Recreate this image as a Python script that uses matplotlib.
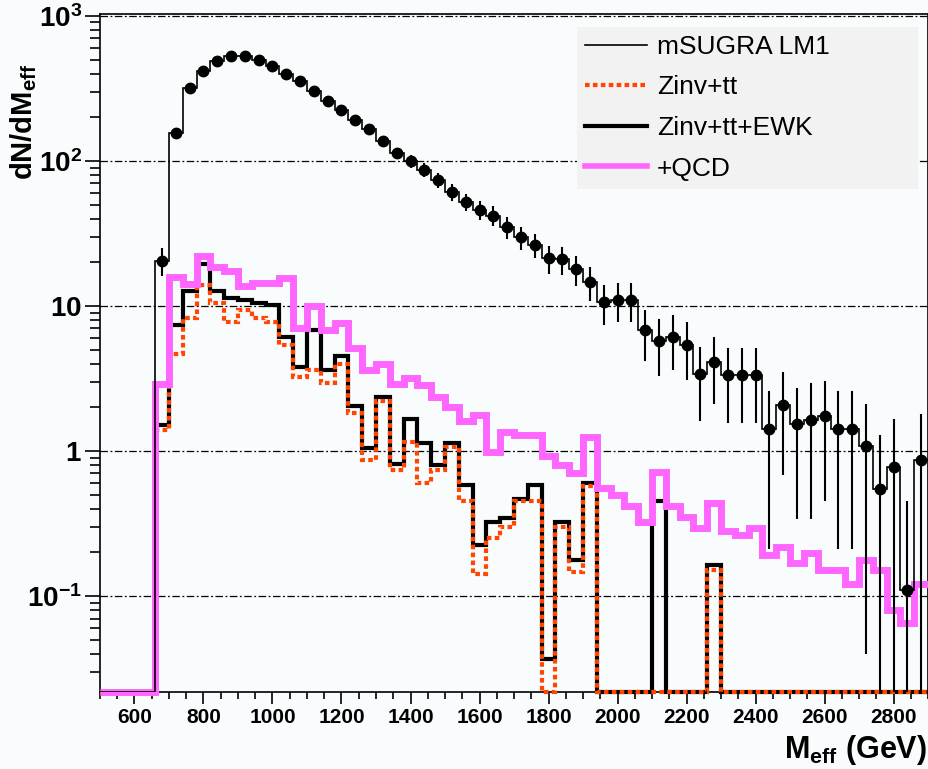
import matplotlib
matplotlib.use('Agg')

import matplotlib.pyplot as plt
from matplotlib.lines import Line2D
from matplotlib.ticker import FixedLocator, FixedFormatter, MultipleLocator, NullFormatter
import numpy as np

plt.rcParams['font.family'] = ['Liberation Sans', 'DejaVu Sans']
plt.rcParams['mathtext.fontset'] = 'custom'
plt.rcParams['mathtext.rm'] = 'Liberation Sans'
plt.rcParams['mathtext.it'] = 'Liberation Sans:italic'
plt.rcParams['mathtext.bf'] = 'Liberation Sans:bold'

# binning: 60 bins of 40 GeV
bin_lo, bin_hi, bin_width = 500, 2900, 40

# signal, events per bin and stat. error
lm1 = [0, 0, 0, 0, 20.5, 156, 320, 420, 487, 530,
       528, 500, 452, 396, 358, 301, 257, 225, 190, 165,
       137, 113, 100, 86.7, 74, 61, 52, 46, 42, 35,
       29.8, 26.4, 21.3, 21, 17.9, 14.7, 10.7, 11, 11, 6.8,
       5.7, 6.1, 5.4, 3.4, 4.1, 3.35, 3.35, 3.35, 1.41, 2.08,
       1.54, 1.64, 1.75, 1.41, 1.41, 1.08, 0.544, 0.77, 0.11, 0.87]
lm1_err = [0, 0, 0, 0, 4.5, 12.5, 17.9, 20.5, 22, 23,
           23, 22.4, 21.3, 19.9, 18.9, 17.3, 16, 15, 13.8, 12.8,
           11.7, 10.6, 10, 9.3, 8.6, 7.8, 7.2, 6.8, 6.5, 5.9,
           5.5, 5.1, 4.6, 4.6, 4.2, 3.8, 3.3, 3.3, 3.3, 2.6,
           2.4, 2.5, 2.3, 1.8, 2.0, 1.8, 1.8, 1.8, 1.2, 1.4,
           1.2, 1.3, 1.3, 1.2, 1.2, 1.04, 0.74, 0.88, 0.34, 0.93]

# backgrounds (cumulative)
zinv_tt = [0, 0, 0, 0, 1.4, 4.7, 8.3, 14, 10.5, 7.8,
           9.4, 8.3, 7.8, 5.4, 3.25, 3.6, 2.94, 4.0, 1.83, 0.87,
           2.2, 0.74, 1.16, 0.60, 0.74, 1.07, 0.45, 0.143, 0.25, 0.30,
           0.45, 0.45, 0, 0.30, 0.147, 0.57, 0, 0, 0, 0,
           0, 0, 0, 0, 0.151, 0, 0, 0, 0, 0,
           0, 0, 0, 0, 0, 0, 0, 0, 0, 0]
zinv_tt_ewk = [0, 0, 0, 0, 1.5, 7.4, 12.6, 19.5, 12.6, 11.3,
               11.0, 10.5, 10.2, 6.1, 3.8, 6.8, 3.6, 4.5, 2.05, 1.05,
               2.35, 0.82, 1.66, 1.13, 0.80, 1.13, 0.58, 0.225, 0.326, 0.343,
               0.47, 0.58, 0.037, 0.326, 0.177, 0.60, 0, 0, 0, 0,
               0.45, 0, 0, 0, 0.165, 0, 0, 0, 0, 0,
               0, 0, 0, 0, 0, 0, 0, 0, 0, 0]
plus_qcd = [0, 0, 0, 0, 2.9, 15.8, 14.2, 22, 18.5, 17.5,
            13.8, 14.3, 14.3, 15.5, 7.0, 10.0, 6.8, 7.6, 5.1, 3.6,
            4.0, 2.9, 3.2, 2.85, 2.37, 2.0, 1.6, 1.78, 0.98, 1.36,
            1.29, 1.29, 0.92, 0.80, 0.70, 1.24, 0.56, 0.50, 0.42, 0.326,
            0.72, 0.42, 0.35, 0.293, 0.436, 0.28, 0.264, 0.293, 0.192, 0.219,
            0.168, 0.197, 0.151, 0.151, 0.122, 0.177, 0.151, 0.080, 0.065, 0.122]

legend_labels = ['mSUGRA LM1', 'Zinv+tt', 'Zinv+tt+EWK', '+QCD']
ytick_vals = [0.1, 1, 10, 100, 1000]
ytick_text = [r'$\mathbf{10^{-1}}$', r'$\mathbf{1}$', r'$\mathbf{10}$',
              r'$\mathbf{10^{2}}$', r'$\mathbf{10^{3}}$']

ymin, ymax = 0.0218, 1030
bg = '#f9fcfd'
c_red = '#ff4500'
c_mag = '#ff66ff'

edges = np.arange(bin_lo, bin_hi + 1, bin_width)
centers = edges[:-1] + bin_width / 2


def floored(v):
    # empty bins sit on the lower frame, as in ROOT
    v = np.asarray(v, dtype=float)
    return np.where(v > 0, v, ymin)


fig = plt.figure(figsize=(9.29, 7.69), dpi=100, facecolor=bg)
ax = fig.add_axes([0.1076, 0.1001, 0.8914, 0.8817], facecolor=bg)
ax.set_yscale('log')
ax.set_xlim(bin_lo, bin_hi)
ax.set_ylim(ymin, ymax)

for y in ytick_vals:
    ax.axhline(y, color='k', lw=0.9, ls=(0, (6, 2, 1.5, 2)), zorder=1)

ax.stairs(floored(zinv_tt_ewk), edges, baseline=None, color='k', lw=3.0,
          zorder=2, clip_on=False, joinstyle='miter')
ax.stairs(floored(zinv_tt), edges, baseline=None, color=c_red, lw=3.0,
          ls=(0, (1.1, 0.8)), zorder=3, clip_on=False)
ax.stairs(floored(plus_qcd), edges, baseline=None, color=c_mag, lw=5.0,
          zorder=4, clip_on=False, joinstyle='miter')
ax.stairs(floored(lm1), edges, baseline=None, color='k', lw=1.2, zorder=5)

sig = np.asarray(lm1)
err = np.asarray(lm1_err)
m = sig > 0
ax.errorbar(centers[m], sig[m], yerr=err[m], fmt='o', ms=7.5, color='k',
            elinewidth=1.5, capsize=0, zorder=6)

# axes
ax.set_xticks(range(600, 2801, 200))
ax.xaxis.set_minor_locator(MultipleLocator(50))
ax.tick_params(axis='x', which='major', length=8.5, width=1.2, labelsize=15,
               pad=3, direction='out')
ax.tick_params(axis='x', which='minor', length=5, width=1.2, direction='out')
for lab in ax.get_xticklabels():
    lab.set_fontweight('bold')

ax.yaxis.set_major_locator(FixedLocator(ytick_vals))
ax.yaxis.set_major_formatter(FixedFormatter(ytick_text))
minors = [k * 10.0 ** e for e in range(-2, 3) for k in range(2, 10)]
ax.yaxis.set_minor_locator(FixedLocator([v for v in minors if ymin < v < ymax]))
ax.yaxis.set_minor_formatter(NullFormatter())
ax.tick_params(axis='y', which='major', length=11, width=1.2, labelsize=20,
               pad=2, direction='out')
ax.tick_params(axis='y', which='minor', length=7, width=1.2, direction='out')

for s in ax.spines.values():
    s.set_linewidth(1.2)

fig.text(24 / 929, 1 - 64 / 769, r'$\mathbf{dN/dM_{eff}}$', rotation=90,
         ha='center', va='top', fontsize=21)
fig.text(927 / 929, 1 - 758 / 769, r'$\mathbf{M_{eff}}$ (GeV)', ha='right',
         va='baseline', fontsize=22, fontweight='bold')

handles = [Line2D([], [], color='k', lw=1.2),
           Line2D([], [], color=c_red, lw=3.0, ls=(0, (1.1, 0.8))),
           Line2D([], [], color='k', lw=3.0),
           Line2D([], [], color=c_mag, lw=4.0)]
leg = ax.legend(handles, legend_labels, loc='upper left',
                bbox_to_anchor=(0.576, 0.981, 0.412, 0.0), mode='expand',
                fontsize=19, frameon=True, fancybox=False, framealpha=1,
                facecolor='#f2f2f2', edgecolor='none', borderaxespad=0,
                handlelength=2.35, handletextpad=0.38, labelspacing=0.63,
                borderpad=0.3)
leg.set_zorder(7)

fig.savefig('out.png', dpi=100, facecolor=bg)
